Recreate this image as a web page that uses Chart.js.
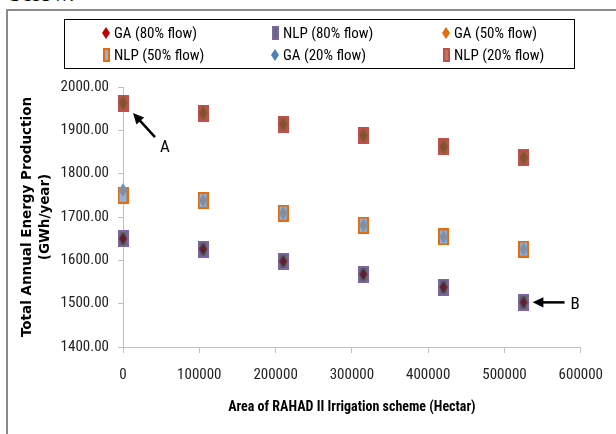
<!DOCTYPE html>
<html>
<head>
<meta charset="utf-8">
<title>Total Annual Energy Production</title>
<script src="https://cdn.jsdelivr.net/npm/chart.js@4.4.0/dist/chart.umd.min.js"></script>
<style>
  html, body { margin: 0; padding: 0; background: #fff; }
  #wrap { position: relative; width: 616px; height: 434px; overflow: hidden; }
  #above { position: absolute; left: 9px; top: -19px; font: 25px 'Liberation Serif', 'Times New Roman', serif; line-height: 24px; color: #000; }
  #frame { position: absolute; left: 6px; top: 9px; width: 700px; height: 500px; border-top: 2px solid #8a8a8a; border-left: 2px solid #8a8a8a; }
  #box { position: absolute; left: 0; top: 0; width: 616px; height: 434px; }
</style>
</head>
<body>
<div id="wrap">
  <div id="above">below.</div>
  <div id="frame"></div>
  <div id="box"><canvas id="energyChart"></canvas></div>
</div>
<script>
// --- Dados ---
const areaHa = [0, 105000, 210000, 315000, 420000, 525000];
const ga80 = [1650, 1626, 1598, 1568, 1538, 1503];
const nlp80 = [1650, 1626, 1598, 1568, 1538, 1503];
const ga50 = [1762, 1738, 1709, 1681, 1654, 1626];
const nlp50 = [1750, 1738, 1709, 1681, 1654, 1626];
const ga20 = [1963, 1940, 1914, 1888, 1862, 1837];
const nlp20 = [1963, 1940, 1914, 1888, 1862, 1837];
const seriesNames = ['GA (80% flow)', 'NLP (80% flow)', 'GA (50% flow)', 'NLP (50% flow)', 'GA (20% flow)', 'NLP (20% flow)'];
const xTicks = [0, 100000, 200000, 300000, 400000, 500000, 600000];
const yTicks = [1400, 1500, 1600, 1700, 1800, 1900, 2000];

document.addEventListener('DOMContentLoaded', function() {
    const narrow = "'Liberation Sans Narrow', 'Roboto Condensed', 'Arial Narrow', sans-serif";

    // marcadores desenhados em canvas (o Excel deixa-os mais altos que largos)
    function diamond(w, h, fill, stroke) {
        const c = document.createElement('canvas');
        c.width = w + 2; c.height = h + 2;
        const ctx = c.getContext('2d');
        ctx.beginPath();
        ctx.moveTo(c.width / 2, 1);
        ctx.lineTo(c.width - 1, c.height / 2);
        ctx.lineTo(c.width / 2, c.height - 1);
        ctx.lineTo(1, c.height / 2);
        ctx.closePath();
        ctx.fillStyle = fill;
        ctx.fill();
        if (stroke) { ctx.strokeStyle = stroke; ctx.lineWidth = 1; ctx.stroke(); }
        return c;
    }

    function block(w, h, fill, stroke) {
        const c = document.createElement('canvas');
        c.width = w; c.height = h;
        const ctx = c.getContext('2d');
        ctx.fillStyle = fill;
        ctx.fillRect(0, 0, w, h);
        ctx.strokeStyle = stroke;
        ctx.lineWidth = 2;
        ctx.strokeRect(1, 1, w - 2, h - 2);
        return c;
    }

    const plotMarkers = [
        diamond(8, 13, '#651c30', '#4d5a4a'),
        block(11, 17, '#5b6478', '#8064a2'),
        diamond(8, 13, '#858c9c', '#6f9ccc'),
        block(11, 17, '#8db4e2', '#e46c0a'),
        diamond(8, 13, '#84502f', '#8e5a36'),
        block(11, 17, '#a35c40', '#c0504d')
    ];
    const legendMarkers = [
        diamond(8, 12, '#c00000'),
        block(7, 14, '#5f6b80', '#8064a2'),
        diamond(8, 12, '#e46c0a'),
        block(7, 14, '#8db4e2', '#e46c0a'),
        diamond(8, 12, '#4f81bd'),
        block(7, 14, '#b37b55', '#c0504d')
    ];

    const seriesValues = [ga80, nlp80, ga50, nlp50, ga20, nlp20];
    const datasets = seriesValues.map((vals, i) => ({
        label: seriesNames[i],
        data: vals.map((v, k) => ({ x: areaHa[k], y: v })),
        pointStyle: plotMarkers[i],
        pointRadius: 7,
        showLine: false,
        clip: false,
        order: i % 2 === 0 ? 0 : 1
    }));

    // --- Legenda em grelha com caixa ---
    const boxLegend = {
        id: 'boxLegend',
        afterDraw(chart) {
            const ctx = chart.ctx;
            ctx.save();
            ctx.strokeStyle = '#000';
            ctx.lineWidth = 1;
            ctx.strokeRect(64.5, 19.5, 510, 49);
            const cols = [106, 275, 446];
            const rows = [33, 55];
            ctx.font = '15px ' + narrow;
            ctx.fillStyle = '#000';
            ctx.textBaseline = 'middle';
            seriesNames.forEach((name, i) => {
                const mx = cols[i % 3];
                const my = rows[Math.floor(i / 3)];
                const m = legendMarkers[i];
                ctx.drawImage(m, Math.round(mx - m.width / 2), Math.round(my - m.height / 2));
                ctx.fillText(name, mx + 8, my + 1);
            });
            ctx.restore();
        }
    };

    // --- Setas A e B ---
    function arrow(ctx, x1, y1, x2, y2) {
        const ang = Math.atan2(y2 - y1, x2 - x1);
        const head = 12;
        ctx.beginPath();
        ctx.moveTo(x1, y1);
        ctx.lineTo(x2 - Math.cos(ang) * head * 0.8, y2 - Math.sin(ang) * head * 0.8);
        ctx.stroke();
        ctx.beginPath();
        ctx.moveTo(x2, y2);
        ctx.lineTo(x2 - head * Math.cos(ang - 0.45), y2 - head * Math.sin(ang - 0.45));
        ctx.lineTo(x2 - head * Math.cos(ang + 0.45), y2 - head * Math.sin(ang + 0.45));
        ctx.closePath();
        ctx.fill();
    }

    const pointers = {
        id: 'pointers',
        afterDatasetsDraw(chart) {
            const { ctx, scales: { x, y } } = chart;
            ctx.save();
            ctx.strokeStyle = '#000';
            ctx.fillStyle = '#000';
            ctx.lineWidth = 2.5;
            ctx.font = '17px ' + narrow;
            ctx.textBaseline = 'middle';

            const ax = x.getPixelForValue(areaHa[0]);
            const ay = y.getPixelForValue(nlp20[0]);
            arrow(ctx, ax + 32, ay + 34, ax + 10, ay + 10);
            ctx.fillText('A', ax + 37, ay + 45);

            const last = areaHa.length - 1;
            const bx = x.getPixelForValue(areaHa[last]);
            const by = y.getPixelForValue(ga80[last]);
            arrow(ctx, bx + 41, by, bx + 9, by);
            ctx.fillText('B', bx + 47, by + 2);
            ctx.restore();
        }
    };

    const ctx = document.getElementById('energyChart').getContext('2d');
    new Chart(ctx, {
        type: 'scatter',
        data: { datasets: datasets },
        options: {
            responsive: true,
            maintainAspectRatio: false,
            animation: false,
            layout: { padding: { top: 87, right: 30, bottom: 0, left: 0 } },
            plugins: { legend: { display: false }, tooltip: { enabled: false } },
            scales: {
                x: {
                    type: 'linear',
                    min: xTicks[0],
                    max: xTicks[xTicks.length - 1],
                    afterBuildTicks: s => { s.ticks = xTicks.map(v => ({ value: v })); },
                    afterFit: s => { s.height = 87; },
                    ticks: {
                        callback: v => String(v),
                        font: { family: narrow, size: 15 },
                        color: '#222',
                        padding: 13,
                        maxRotation: 0
                    },
                    grid: { drawOnChartArea: false, drawTicks: true, tickLength: 6, color: '#bfbfbf' },
                    border: { color: '#bfbfbf' },
                    title: {
                        display: true,
                        text: 'Area of RAHAD II Irrigation scheme (Hectar)',
                        font: { family: narrow, size: 14, weight: 'bold' },
                        color: '#000',
                        padding: { top: 0, bottom: 18 }
                    }
                },
                y: {
                    min: yTicks[0],
                    max: yTicks[yTicks.length - 1],
                    afterBuildTicks: s => { s.ticks = yTicks.map(v => ({ value: v })); },
                    afterFit: s => { s.width = 123; },
                    ticks: {
                        callback: v => v.toFixed(2),
                        font: { family: narrow, size: 15 },
                        color: '#222',
                        padding: 9
                    },
                    grid: { drawOnChartArea: false, drawTicks: true, tickLength: 5, color: '#bfbfbf' },
                    border: { color: '#bfbfbf' },
                    title: {
                        display: true,
                        text: ['Total Annual Energy Production', '(GWh/year)'],
                        font: { family: 'DejaVu Sans', size: 13.5, weight: 'bold', lineHeight: 1.35 },
                        color: '#000',
                        padding: { top: 18, bottom: 0 }
                    }
                }
            }
        },
        plugins: [boxLegend, pointers]
    });
});
</script>
</body>
</html>
